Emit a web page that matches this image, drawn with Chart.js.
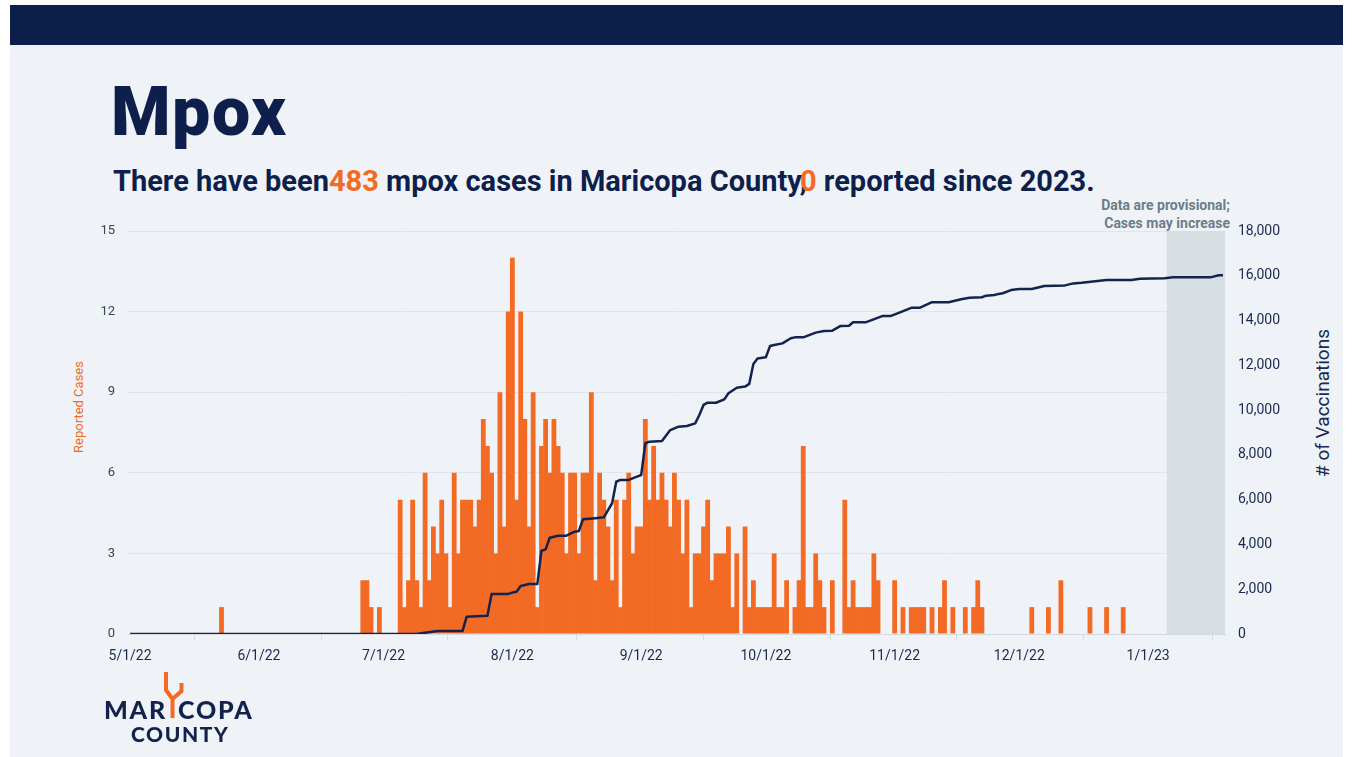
<!DOCTYPE html>
<html>
<head>
<meta charset="utf-8">
<script src="https://cdn.jsdelivr.net/npm/chart.js@4.4.1/dist/chart.umd.min.js"></script>
<style>
  html, body { margin: 0; padding: 0; background: #ffffff; }
  body { width: 1353px; height: 757px; position: relative; overflow: hidden; font-family: Roboto, sans-serif; }
  #slide { position: absolute; left: 10px; top: 5px; width: 1333px; height: 752px; background: #eff3f7; }
  #band { position: absolute; left: 10px; top: 5px; width: 1333px; height: 40px; background: #0c1e4a; }
  #title { position: absolute; left: 111px; top: 78px; font: 900 68px/68px Roboto, sans-serif; color: #0e1f4b; letter-spacing: 1.5px; }
  #subtitle { position: absolute; left: 113px; top: 167px; font: 700 29px/29px Roboto, sans-serif; color: #0e1f4b; white-space: nowrap; }
  #subtitle .num { color: #f26a23; }
  #note { position: absolute; right: 123px; top: 196px; font: 700 14px/18px Roboto, sans-serif; color: #6d7c87; text-align: right; }
  .axis-title { position: absolute; white-space: nowrap; transform: translate(-50%, -50%) rotate(-90deg); }
  #leftTitle { left: 78px; top: 407px; font: 400 13px Roboto, sans-serif; color: #f26a23; }
  #rightTitle { left: 1322px; top: 403px; font: 400 19px Roboto, sans-serif; color: #1b2850; }
  #chart { position: absolute; left: 0; top: 0; }
  .logo { position: absolute; font-family: Lato, sans-serif; font-weight: 900; color: #13224d; line-height: 1; }
  #logoA { left: 104px; top: 697px; font-size: 25px; letter-spacing: 1.8px; }
  #logoB { left: 178px; top: 697px; font-size: 25px; letter-spacing: 1.8px; }
  #logoC { left: 131px; top: 723px; font-size: 21px; letter-spacing: 1.6px; }
  #cactus { position: absolute; left: 0; top: 0; }
</style>
</head>
<body>
<div id="slide"></div>
<div id="band"></div>
<div id="title">Mpox</div>
<div id="subtitle">There have been<span class="num">483</span> mpox cases in Maricopa County,<span class="num" style="margin-left:-7px">0</span> reported&nbsp;since 2023.</div>
<div id="note">Data are provisional;<br>Cases may increase</div>
<div id="leftTitle" class="axis-title">Reported Cases</div>
<div id="rightTitle" class="axis-title"># of Vaccinations</div>
<canvas id="chart" width="1353" height="757"></canvas>
<div id="logoA" class="logo">MAR</div>
<div id="logoB" class="logo">COPA</div>
<div id="logoC" class="logo">COUNTY</div>
<svg id="cactus" width="260" height="757">
  <path d="M166 672 L166 690 L172.5 699 L172.5 718 M181.5 683 L181.5 691 L172.5 699" fill="none" stroke="#f26a23" stroke-width="4"/>
</svg>
<script>
// one category per day, 5/1/22 .. 1/19/23
const dayCount = 264;
const dayLabels = [];
for (let i = 0; i < dayCount; i++) {
    const d = new Date(2022, 4, 1 + i);
    dayLabels.push(`${d.getMonth() + 1}/${d.getDate()}/${String(d.getFullYear()).slice(2)}`);
}

const monthTicks = ['5/1/22', '6/1/22', '7/1/22', '8/1/22', '9/1/22', '10/1/22', '11/1/22', '12/1/22', '1/1/23'];
const provisionalFrom = '1/6/23';

// daily reported cases
const caseValues = [
    // May
    0,0,0,0,0,0,0,0,0,0, 0,0,0,0,0,0,0,0,0,0, 0,0,1,0,0,0,0,0,0,0, 0,
    // June
    0,0,0,0,0,0,0,0,0,0, 0,0,0,0,0,0,0,0,0,0, 0,0,0,0,0,2,2,1,0,1,
    // July
    0,0,0,0,5,1,2,5,2,1, 6,2,4,3,5,3,1,6,3,5, 5,5,4,5,8,7,6,3,9,4, 12,
    // August
    14,5,12,8,4,9,1,7,8,6, 8,7,6,3,6,6,3,6,6,9, 2,6,5,4,2,5,1,5,6,3, 4,
    // September
    4,8,5,7,5,6,5,4,6,5, 3,5,1,3,3,4,5,2,3,3, 3,4,1,3,0,4,1,2,1,1,
    // October
    1,1,3,1,1,2,0,1,2,7, 1,1,3,2,1,0,2,0,0,5, 1,2,1,1,1,1,3,2,0,0, 0,
    // November
    2,0,1,0,1,1,1,1,0,1, 0,1,2,0,1,0,0,1,0,1, 2,1,0,0,0,0,0,0,0,0,
    // December
    0,0,0,1,0,0,0,1,0,0, 2,0,0,0,0,0,0,1,0,0, 0,1,0,0,0,1,0,0,0,0, 0,
    // January
    0,0,0,0,0,0,0,0,0,0, 0,0,0,0,0,0,0,0,0
];

// cumulative vaccinations, read where the line bends
const vaccDays = [0, 69, 71, 74, 80, 81, 86, 87, 91, 92, 93, 94, 96, 98, 99, 100, 101, 103, 105, 107,
    108, 109, 112, 114, 116, 117, 118, 120, 122, 123, 124, 125, 128, 130, 132, 134, 136, 137, 138, 139,
    141, 143, 144, 146, 148, 149, 150, 151, 153, 154, 155, 157, 159, 160, 162, 165, 167, 169, 171, 173,
    174, 177, 181, 183, 188, 190, 193, 197, 200, 202, 205, 206, 208, 209, 210, 212, 214, 217, 220, 225,
    227, 229, 235, 241, 243, 249, 251, 260, 262, 263];
const vaccTotals = [0, 0, 60, 130, 130, 775, 820, 1790, 1790, 1850, 1890, 2140, 2230, 2230, 3720, 3780, 4300, 4390, 4390, 4570,
    4600, 5120, 5170, 5210, 5840, 6800, 6880, 6880, 7030, 7100, 8520, 8590, 8620, 9110, 9260, 9290, 9410, 9780, 10230, 10330,
    10330, 10480, 10750, 11000, 11050, 11170, 12060, 12310, 12360, 12860, 12910, 12980, 13210, 13250, 13250, 13460, 13530, 13550, 13760, 13770,
    13920, 13920, 14200, 14200, 14570, 14570, 14820, 14820, 14950, 15020, 15040, 15110, 15140, 15190, 15220, 15360, 15410, 15410, 15540, 15570,
    15660, 15690, 15810, 15810, 15870, 15890, 15930, 15930, 16020, 16020];

const vaccSeries = dayLabels.map(() => null);
vaccDays.forEach((d, i) => { vaccSeries[d] = vaccTotals[i]; });

const navy = '#13234e';
const orange = '#f26a23';

// grey band behind the provisional days
const provisionalBand = {
    id: 'provisionalBand',
    beforeDatasetsDraw(chart) {
        const { ctx, chartArea, scales } = chart;
        const start = dayLabels.indexOf(provisionalFrom);
        const x0 = scales.x.getPixelForValue(start - 0.5);
        ctx.save();
        ctx.fillStyle = '#d6dee2';
        ctx.fillRect(x0, chartArea.top, chartArea.right - x0, chartArea.bottom - chartArea.top);
        ctx.restore();
    }
};

const chart = new Chart(document.getElementById('chart').getContext('2d'), {
    type: 'bar',
    data: {
        labels: dayLabels,
        datasets: [{
            type: 'line',
            label: '# of Vaccinations',
            data: vaccSeries,
            yAxisID: 'y1',
            borderColor: navy,
            borderWidth: 2.5,
            pointRadius: 0,
            spanGaps: true,
            tension: 0,
            borderJoinStyle: 'round'
        }, {
            label: 'Reported Cases',
            data: caseValues,
            yAxisID: 'y',
            backgroundColor: orange,
            borderWidth: 0,
            barPercentage: 1.15,
            categoryPercentage: 1
        }]
    },
    plugins: [provisionalBand],
    options: {
        responsive: false,
        animation: false,
        layout: { padding: { top: 231, left: 60, right: 28, bottom: 83 } },
        plugins: { legend: { display: false }, tooltip: { enabled: false } },
        scales: {
            x: {
                type: 'category',
                offset: true,
                afterFit: s => { s.height = 40; },
                afterBuildTicks: s => { s.ticks = s.ticks.filter(t => monthTicks.includes(dayLabels[t.value])); },
                ticks: {
                    autoSkip: false,
                    maxRotation: 0,
                    padding: 8,
                    color: '#1b2850',
                    font: { family: 'Roboto', size: 14 },
                    callback: function (value) { return this.getLabelForValue(value); }
                },
                grid: { drawOnChartArea: false, tickLength: 6, color: '#d3dae2' },
                border: { color: '#d3dae2' }
            },
            y: {
                position: 'left',
                min: 0,
                max: 15,
                afterFit: s => { s.width = 68; },
                ticks: { stepSize: 3, padding: 13, color: '#38445f', font: { family: 'Roboto', size: 13 } },
                grid: { color: '#e0e5ea', drawTicks: false },
                border: { display: false }
            },
            y1: {
                position: 'right',
                min: 0,
                max: 18000,
                afterFit: s => { s.width = 100; },
                ticks: {
                    stepSize: 2000,
                    padding: 13,
                    color: '#1b2850',
                    font: { family: 'Roboto', size: 14 },
                    callback: v => v.toLocaleString('en-US')
                },
                grid: { drawOnChartArea: false, drawTicks: false },
                border: { display: false }
            }
        }
    }
});
</script>
</body>
</html>
